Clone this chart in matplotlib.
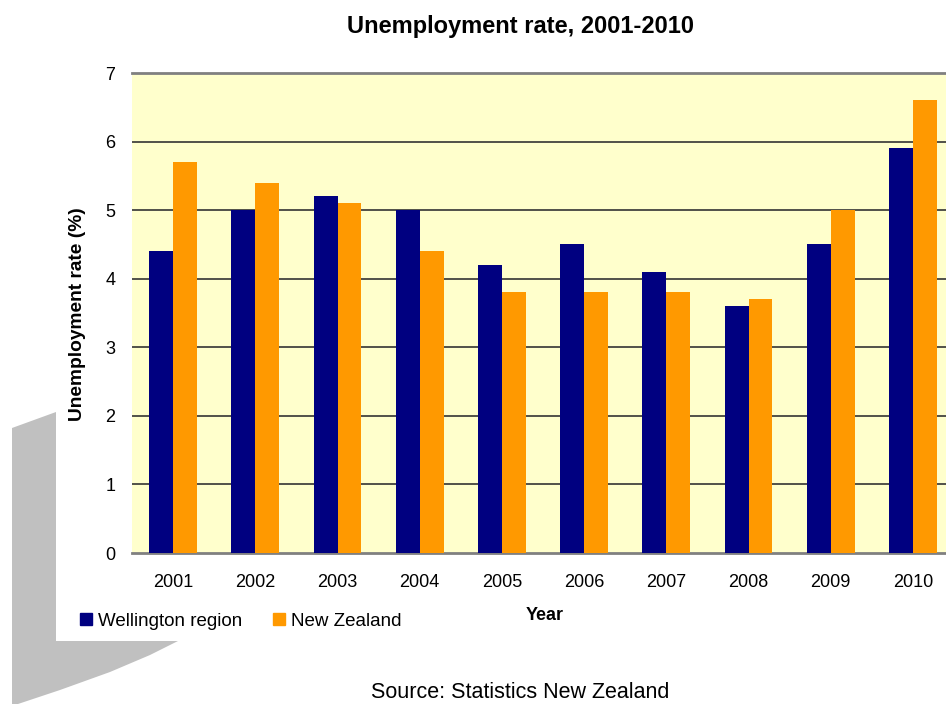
import numpy as np
import matplotlib.pyplot as plt
from matplotlib.patches import Polygon, Rectangle
from matplotlib.lines import Line2D

years = ["2001", "2002", "2003", "2004", "2005", "2006", "2007", "2008", "2009", "2010"]
wellington = [4.4, 5.0, 5.2, 5.0, 4.2, 4.5, 4.1, 3.6, 4.5, 5.9]
new_zealand = [5.7, 5.4, 5.1, 4.4, 3.8, 3.8, 3.8, 3.7, 5.0, 6.6]

navy = "#000080"
orange = "#FF9900"

plt.rcParams["font.family"] = ["Liberation Sans", "DejaVu Sans"]

W, H = 946, 704
fig = plt.figure(figsize=(W / 100, H / 100), dpi=100)

# grey decorative shape behind the chart area
def px(x, y):
    return (x / W, 1 - y / H)

grey = Polygon([px(12, 428), px(56, 412), px(56, 641), px(178, 641),
                px(150, 655), px(110, 672), px(60, 690), px(12, 706)],
               closed=True, transform=fig.transFigure, facecolor="#C0C0C0",
               edgecolor="none", zorder=-2)
fig.patches.append(grey)
fig.patches.append(Rectangle(px(56, 641), (W - 56) / W, 641 / H,
                             transform=fig.transFigure, facecolor="white",
                             edgecolor="none", zorder=-1))

ax = fig.add_axes([132 / W, (H - 553) / H, 822 / W, 480 / H])
ax.set_zorder(1)
ax.set_facecolor("#FFFFCC")

x = np.arange(len(years))
w = 0.29
ax.bar(x - w / 2, wellington, w, color=navy, zorder=3, label="Wellington region")
ax.bar(x + w / 2, new_zealand, w, color=orange, zorder=3, label="New Zealand")

ax.set_xlim(-0.5, len(years) - 0.5)
ax.set_ylim(0, 7)
ax.set_yticks(range(0, 8))
ax.set_xticks(x)
ax.set_xticklabels(years)
ax.tick_params(axis="both", length=0, labelsize=13)
ax.tick_params(axis="y", pad=12)
ax.tick_params(axis="x", pad=15)

for v in range(1, 7):
    ax.axhline(v, color="#333333", lw=1.2, zorder=1)
for s in ["left", "right"]:
    ax.spines[s].set_visible(False)
ax.spines["top"].set_color("#808080")
ax.spines["top"].set_linewidth(2)
ax.spines["bottom"].set_color("#808080")
ax.spines["bottom"].set_linewidth(2)

fig.text(520 / W, 1 - 27 / H, "Unemployment rate, 2001-2010", ha="center", va="center",
         fontsize=17, fontweight="bold")
fig.text(77 / W, 1 - 314 / H, "Unemployment rate (%)", rotation=90, ha="center",
         va="center", fontsize=13.8, fontweight="bold")
fig.text(545 / W, 1 - 616 / H, "Year", ha="center", va="center", fontsize=13, fontweight="bold")
fig.text(520 / W, 1 - 693 / H, "Source: Statistics New Zealand", ha="center", va="center",
         fontsize=15.5)

handles = [Line2D([], [], marker="s", ls="", color=navy, markersize=9),
           Line2D([], [], marker="s", ls="", color=orange, markersize=9)]
fig.legend(handles, ["Wellington region", "New Zealand"], loc="center left",
           bbox_to_anchor=(72 / W, 1 - 621 / H), ncol=2, frameon=False,
           fontsize=13.5, handlelength=0.7, handletextpad=0.3, columnspacing=1.6,
           borderaxespad=0)

fig.savefig("out.png", dpi=100)
